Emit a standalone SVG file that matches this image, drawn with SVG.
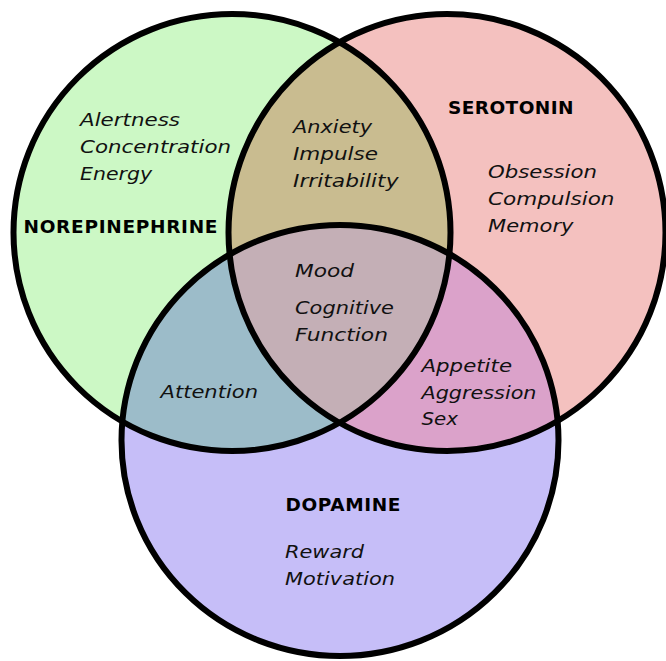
<svg xmlns="http://www.w3.org/2000/svg" xmlns:xlink="http://www.w3.org/1999/xlink" width="666" height="661" viewBox="0 0 666 661">
  <style>
    .item { font-family: "DejaVu Sans", "Liberation Sans", sans-serif; font-style: italic; font-size: 18.5px; fill: #111; }
    .title { font-family: "DejaVu Sans", "Liberation Sans", sans-serif; font-weight: bold; font-size: 18.5px; fill: #000; }
    .outline { fill: none; stroke: #000; stroke-width: 6; }
  </style>
  <defs>
    <circle id="cN" cx="232" cy="232.5" r="218.5"/>
    <circle id="cS" cx="447" cy="232.5" r="218.5"/>
    <ellipse id="cD" cx="340" cy="440.5" rx="218.5" ry="215.5"/>
    <clipPath id="clipN"><use xlink:href="#cN"/></clipPath>
    <clipPath id="clipS"><use xlink:href="#cS"/></clipPath>
  </defs>

  <rect width="666" height="661" fill="#ffffff"/>

  <g id="norepinephrine">
    <use xlink:href="#cN" fill="#CCF8C5"/>
  </g>
  <g id="serotonin">
    <use xlink:href="#cS" fill="#F4C1BF"/>
  </g>
  <g id="dopamine">
    <use xlink:href="#cD" fill="#C6BEF8"/>
  </g>
  <g id="norepinephrine-serotonin" clip-path="url(#clipN)">
    <use xlink:href="#cS" fill="#C9BC90"/>
  </g>
  <g id="norepinephrine-dopamine" clip-path="url(#clipN)">
    <use xlink:href="#cD" fill="#9CBCC9"/>
  </g>
  <g id="serotonin-dopamine" clip-path="url(#clipS)">
    <use xlink:href="#cD" fill="#DBA2CA"/>
  </g>
  <g id="all-three" clip-path="url(#clipN)">
    <g clip-path="url(#clipS)">
      <use xlink:href="#cD" fill="#C4AFB6"/>
    </g>
  </g>

  <g id="outlines">
    <use xlink:href="#cN" class="outline"/>
    <use xlink:href="#cS" class="outline"/>
    <use xlink:href="#cD" class="outline"/>
  </g>

  <g id="labels-norepinephrine">
    <text class="item" x="80" y="126" textLength="100" lengthAdjust="spacingAndGlyphs">Alertness</text>
    <text class="item" x="80" y="153" textLength="151" lengthAdjust="spacingAndGlyphs">Concentration</text>
    <text class="item" x="80" y="180" textLength="72" lengthAdjust="spacingAndGlyphs">Energy</text>
    <text class="title" x="23.5" y="232.5" textLength="194" lengthAdjust="spacing">NOREPINEPHRINE</text>
  </g>
  <g id="labels-serotonin">
    <text class="title" x="448" y="114" textLength="125.5" lengthAdjust="spacing">SEROTONIN</text>
    <text class="item" x="488" y="178" textLength="109" lengthAdjust="spacingAndGlyphs">Obsession</text>
    <text class="item" x="488" y="205" textLength="126.5" lengthAdjust="spacingAndGlyphs">Compulsion</text>
    <text class="item" x="488" y="232" textLength="85.5" lengthAdjust="spacingAndGlyphs">Memory</text>
  </g>
  <g id="labels-dopamine">
    <text class="title" x="285.5" y="510.5" textLength="115" lengthAdjust="spacing">DOPAMINE</text>
    <text class="item" x="285" y="557.5" textLength="79" lengthAdjust="spacingAndGlyphs">Reward</text>
    <text class="item" x="285" y="584.5" textLength="110" lengthAdjust="spacingAndGlyphs">Motivation</text>
  </g>
  <g id="labels-norepinephrine-serotonin">
    <text class="item" x="293" y="133" textLength="79" lengthAdjust="spacingAndGlyphs">Anxiety</text>
    <text class="item" x="293" y="160" textLength="85" lengthAdjust="spacingAndGlyphs">Impulse</text>
    <text class="item" x="293" y="187" textLength="105.5" lengthAdjust="spacingAndGlyphs">Irritability</text>
  </g>
  <g id="labels-norepinephrine-dopamine">
    <text class="item" x="160.5" y="397.5" textLength="97.5" lengthAdjust="spacingAndGlyphs">Attention</text>
  </g>
  <g id="labels-serotonin-dopamine">
    <text class="item" x="421.5" y="371.5" textLength="90.5" lengthAdjust="spacingAndGlyphs">Appetite</text>
    <text class="item" x="421.5" y="398.5" textLength="115" lengthAdjust="spacingAndGlyphs">Aggression</text>
    <text class="item" x="421.5" y="425" textLength="36.5" lengthAdjust="spacingAndGlyphs">Sex</text>
  </g>
  <g id="labels-all-three">
    <text class="item" x="295" y="276.5" textLength="59" lengthAdjust="spacingAndGlyphs">Mood</text>
    <text class="item" x="295" y="313.5" textLength="99" lengthAdjust="spacingAndGlyphs">Cognitive</text>
    <text class="item" x="295" y="340.5" textLength="93" lengthAdjust="spacingAndGlyphs">Function</text>
  </g>
</svg>
